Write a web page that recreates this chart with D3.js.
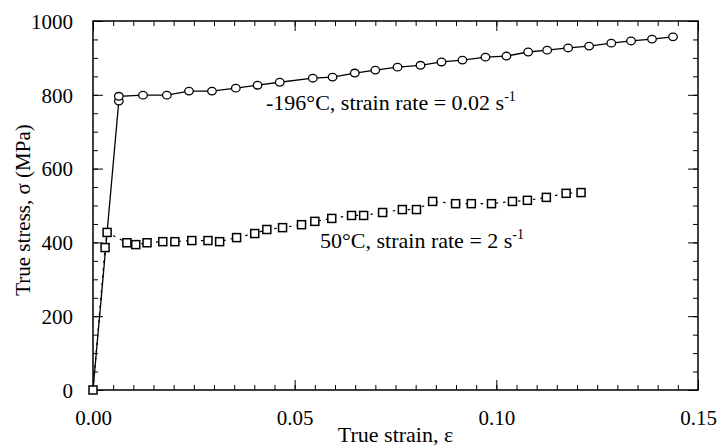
<!DOCTYPE html>
<html>
<head>
<meta charset="utf-8">
<script src="https://cdn.jsdelivr.net/npm/d3@7"></script>
<style>
body { margin: 0; background: #fff; }
.tick line { stroke: #000; stroke-width: 1; }
.domain { display: none; }
</style>
</head>
<body>
<svg id="chart"></svg>
<script>
var w = 719;
var h = 448;
var margin = {top: 21, right: 21, bottom: 58, left: 93};
var serif = "'Liberation Serif', 'Times New Roman', serif";

// -196 C, strain rate 0.02 /s (circles, solid line)
var strainCold = [0, 0.0064, 0.0064, 0.0124, 0.0183, 0.0238, 0.0295, 0.0354, 0.0408, 0.0463,
	0.0545, 0.0594, 0.0649, 0.0700, 0.0755, 0.0812, 0.0864, 0.0916, 0.0973, 0.1025,
	0.1079, 0.1126, 0.1178, 0.1230, 0.1285, 0.1334, 0.1386, 0.1438];
var stressCold = [0, 783, 796, 799, 799, 810, 810, 818, 826, 834,
	845, 848, 859, 867, 875, 880, 889, 894, 902, 905,
	916, 921, 927, 932, 940, 946, 951, 957];

// 50 C, strain rate 2 /s (squares, dotted line)
var strainWarm = [0, 0.0030, 0.0035, 0.0084, 0.0106, 0.0134, 0.0173, 0.0203, 0.0245, 0.0285,
	0.0314, 0.0356, 0.0401, 0.0431, 0.0470, 0.0517, 0.0550, 0.0592, 0.0641, 0.0671,
	0.0718, 0.0767, 0.0802, 0.0842, 0.0899, 0.0938, 0.0988, 0.1040, 0.1077, 0.1124,
	0.1173, 0.1210];
var stressWarm = [0, 386, 427, 399, 394, 399, 402, 402, 405, 405,
	402, 413, 424, 435, 440, 448, 457, 465, 473, 473,
	481, 489, 489, 511, 505, 505, 505, 511, 514, 522,
	533, 535];

var xTicks = [0, 0.05, 0.10, 0.15];
var yTicks = [0, 200, 400, 600, 800, 1000];
var xMinor = d3.range(0, 0.1501, 0.005);
var yMinor = d3.range(0, 1001, 50);

var svg = d3.select("#chart")
	.attr("width", w)
	.attr("height", h)
	.attr("font-family", serif);

var x = d3.scaleLinear().domain([0, 0.15]).range([margin.left, w - margin.right]);
var y = d3.scaleLinear().domain([0, 1000]).range([h - margin.bottom, margin.top]);

function addAxis(axis, tx, ty, vals, size, labels) {
	var g = svg.append("g")
		.attr("transform", "translate(" + tx + "," + ty + ")")
		.call(axis.tickValues(vals).tickSize(size).tickSizeOuter(0));
	g.attr("font-family", null).attr("font-size", null);
	if (!labels) g.selectAll("text").remove();
	return g;
}

// minor ticks, all pointing inward
addAxis(d3.axisBottom(x), 0, y(0), xMinor, -5, false);
addAxis(d3.axisTop(x), 0, y(1000), xMinor, -5, false);
addAxis(d3.axisLeft(y), x(0), 0, yMinor, -5, false);
addAxis(d3.axisRight(y), x(0.15), 0, yMinor, -5, false);

// major ticks
var bx = addAxis(d3.axisBottom(x).tickFormat(d3.format(".2f")).tickPadding(22), 0, y(0), xTicks, -10, true);
addAxis(d3.axisTop(x), 0, y(1000), xTicks, -10, false);
var ly = addAxis(d3.axisLeft(y).tickFormat(d3.format("d")).tickPadding(20), x(0), 0, yTicks, -10, true);
addAxis(d3.axisRight(y), x(0.15), 0, yTicks, -10, false);

bx.selectAll("text").attr("font-size", 21).attr("fill", "#000").attr("dy", "0.6em");
ly.selectAll("text").attr("font-size", 21).attr("fill", "#000").attr("dy", "0.35em");

svg.append("rect")
	.attr("x", x(0))
	.attr("y", y(1000))
	.attr("width", x(0.15) - x(0))
	.attr("height", y(0) - y(1000))
	.attr("fill", "none")
	.attr("stroke", "#000")
	.attr("stroke-width", 1.5);

var cold = strainCold.map(function(d, i) { return [d, stressCold[i]]; });
var warm = strainWarm.map(function(d, i) { return [d, stressWarm[i]]; });

var line = d3.line()
	.x(function(d) { return x(d[0]); })
	.y(function(d) { return y(d[1]); });

svg.append("path")
	.datum(warm)
	.attr("d", line)
	.attr("fill", "none")
	.attr("stroke", "#000")
	.attr("stroke-width", 1.2)
	.attr("stroke-dasharray", "2.5,5");

svg.append("path")
	.datum(cold)
	.attr("d", line)
	.attr("fill", "none")
	.attr("stroke", "#000")
	.attr("stroke-width", 1.3);

svg.selectAll(".sq")
	.data(warm)
	.enter().append("rect")
	.attr("class", "sq")
	.attr("x", function(d) { return x(d[0]) - 4; })
	.attr("y", function(d) { return y(d[1]) - 4; })
	.attr("width", 8)
	.attr("height", 8)
	.attr("fill", "#fff")
	.attr("stroke", "#000")
	.attr("stroke-width", 1.5);

svg.selectAll(".circ")
	.data(cold.slice(1))
	.enter().append("ellipse")
	.attr("class", "circ")
	.attr("cx", function(d) { return x(d[0]); })
	.attr("cy", function(d) { return y(d[1]); })
	.attr("rx", 4.3)
	.attr("ry", 3.8)
	.attr("fill", "#fff")
	.attr("stroke", "#000")
	.attr("stroke-width", 1.3);

// curve labels
var t1 = svg.append("text")
	.attr("x", x(0.0429))
	.attr("y", y(759))
	.attr("font-size", 22)
	.attr("fill", "#000");
t1.append("tspan").text("-196\u00B0C, strain rate = 0.02 s");
t1.append("tspan").attr("font-size", 14).attr("dy", -9).text("-1");

var t2 = svg.append("text")
	.attr("x", x(0.0563))
	.attr("y", y(385))
	.attr("font-size", 22)
	.attr("fill", "#000");
t2.append("tspan").text("50\u00B0C, strain rate = 2 s");
t2.append("tspan").attr("font-size", 14).attr("dy", -9).text("-1");

// axis titles
svg.append("text")
	.attr("x", (x(0) + x(0.15)) / 2)
	.attr("y", 442)
	.attr("text-anchor", "middle")
	.attr("font-size", 22)
	.attr("fill", "#000")
	.text("True strain, \u03B5");

svg.append("text")
	.attr("transform", "translate(30," + 210 + ") rotate(-90)")
	.attr("text-anchor", "middle")
	.attr("font-size", 21)
	.attr("fill", "#000")
	.text("True stress, \u03C3 (MPa)");
</script>
</body>
</html>
